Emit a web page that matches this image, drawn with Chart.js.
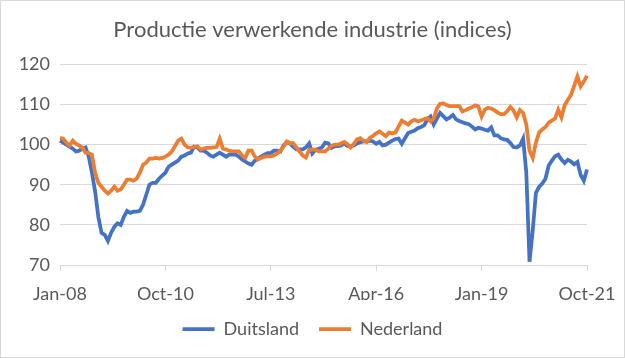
<!DOCTYPE html>
<html>
<head>
<meta charset="utf-8">
<script src="https://cdn.jsdelivr.net/npm/chart.js@4/dist/chart.umd.min.js"></script>
<style>
html,body{margin:0;padding:0;background:#fff;}
#wrap{width:625px;height:358px;position:relative;}
</style>
</head>
<body>
<div id="wrap"><canvas id="c" width="625" height="358"></canvas></div>
<script>
const monthNames = ['Jan','Feb','Mar','Apr','May','Jun','Jul','Aug','Sep','Oct','Nov','Dec'];
const startYear = 2008;
const monthCount = 166;
const tickLabels = ['Jan-08','Oct-10','Jul-13','Apr-16','Jan-19','Oct-21'];

const duitsland = [
101,100.5,100,99.5,99,98.3,98.5,99,99.3,97,93,88.3,82,78,77.5,76,78,79.5,80.4,80,
82,83.5,83,83.3,83.3,83.5,85,87.5,90,90.5,90.5,91.5,92.3,93,94.5,95,95.5,96,97,97.3,
97.8,98,99.5,99.3,98.5,98.5,98,97.3,97,97.5,98,97.5,97,97.5,97.5,97.5,97,96.3,95.8,95.3,
95,96,96.5,97,97.5,97.9,97.9,98.5,98.5,98.3,99.8,100.6,100.3,99.5,98.8,98.8,98.8,99.3,100.3,97.8,
98.7,99,99.3,100.5,100.3,99.2,99.6,99.6,99.8,100.3,99.7,99.6,99.8,100.3,100.6,100.8,100.8,101,100.8,100.2,
100.7,99.8,100,100.5,101,101.4,101.5,100.2,101.6,102.9,103.2,103.5,104.1,104.4,104.8,106.2,107,105,106.5,107.9,
107.1,106.3,106.7,107.4,106.3,105.9,105.6,105.3,105.1,104.5,103.8,104.2,104,103.7,103.5,104.3,102.3,102.3,101.6,101.3,
101.2,100.4,99.4,99.3,99.8,101.5,93,70.8,78.5,88,89.5,90.3,91.5,94.8,96,97.1,97.5,96.3,95.4,96.2,
95.8,95.1,95.7,92.5,91,93.8
];

const nederland = [
101.7,101.5,100.5,99.8,101,100.2,99.8,99.2,98,97.9,97.5,93,90.5,89.5,88.5,87.8,88.5,89.5,88.5,88.8,
90,91.3,91.3,91,91.5,93,95,95.5,96.5,96.5,96.7,96.5,96.7,97,97.5,98.3,99.6,101,101.5,100,
99.3,99.2,99.4,99.6,98.8,99,99.2,99.2,99.3,99.4,101.5,99,98.8,98.5,98.3,98.3,98.3,97.3,96.7,98.5,
98.5,97,96.3,96.7,97,97.1,97.1,97.3,97.8,98.5,99.5,100.8,100.4,100.4,99.3,98.3,97.3,96.8,98.7,98.75,
98.75,98.3,98.3,98.3,99,99.7,100,100,100.3,100.7,100.1,99.3,100.2,101.3,101.6,101,100.6,101.7,102.2,102.8,
103.3,102.7,102.1,103,102.8,103,104.5,106,105.5,105,105.8,106.2,105.8,106,106.3,106.6,105.8,106.5,109,110.2,
110.3,109.9,109.6,109.6,109.6,109.6,108.3,108.6,109,109.3,109.8,109.5,107,108.7,109.2,109,108.6,108,107.6,107.6,
108.3,109.4,108.5,106.8,108.6,107.9,105,98.5,96.7,100.5,103,103.8,104.4,105.5,106,106.5,108.7,106.8,109.8,111.2,
112.4,114.7,117,114.5,115.7,117.2
];

const categories = [];
for (let i = 0; i < monthCount; i++) {
  const m = i % 12;
  const y = startYear + Math.floor(i / 12);
  categories.push(monthNames[m] + '-' + String(y % 100).padStart(2, '0'));
}

const FONT = 'Lato, "Open Sans", sans-serif';
const TXT = '#595959';
const GRID = '#d9d9d9';

const frame = {
  id: 'frame',
  beforeDraw(chart) {
    const ctx = chart.ctx;
    ctx.save();
    ctx.fillStyle = '#fff';
    ctx.fillRect(0, 0, chart.width, chart.height);
    ctx.strokeStyle = '#d9d9d9';
    ctx.lineWidth = 1;
    ctx.strokeRect(0.5, 0.5, chart.width - 1, chart.height - 1);
    ctx.restore();
  }
};

new Chart(document.getElementById('c'), {
  type: 'line',
  data: {
    labels: categories,
    datasets: [
      { label: 'Duitsland', data: duitsland, borderColor: '#4472C4', backgroundColor: '#4472C4',
        borderWidth: 3.75, pointRadius: 0, tension: 0, order: 1 },
      { label: 'Nederland', data: nederland, borderColor: '#ED7D31', backgroundColor: '#ED7D31',
        borderWidth: 3.75, pointRadius: 0, tension: 0, order: 0 }
    ]
  },
  options: {
    responsive: false,
    animation: false,
    layout: { padding: { left: 0, right: 0, top: 0, bottom: 10 } },
    plugins: {
      title: {
        display: true,
        text: 'Productie verwerkende industrie (indices)',
        color: TXT,
        font: { family: FONT, size: 22, weight: 'normal' },
        padding: { top: 17, bottom: 21 }
      },
      legend: {
        position: 'bottom',
        labels: {
          color: TXT,
          font: { family: FONT, size: 18 },
          usePointStyle: true,
          pointStyle: 'line',
          pointStyleWidth: 32,
          boxHeight: 18,
          padding: 20,
          sort: (a, b) => a.datasetIndex - b.datasetIndex
        }
      },
      tooltip: { enabled: false }
    },
    scales: {
      x: {
        ticks: {
          autoSkip: false,
          maxRotation: 0,
          minRotation: 0,
          color: TXT,
          font: { family: FONT, size: 18 },
          padding: 12,
          callback: function (v, i) {
            const l = categories[i];
            return tickLabels.includes(l) ? l : null;
          }
        },
        grid: { drawOnChartArea: false, drawTicks: true, tickLength: 6, color: GRID },
        border: { display: true, color: GRID },
        afterFit: s => { s.height = 35; s.paddingRight = 38; }
      },
      y: {
        min: 70,
        max: 120,
        ticks: { stepSize: 10, color: TXT, font: { family: FONT, size: 18 }, padding: 10 },
        grid: { color: GRID, drawTicks: false },
        border: { display: false },
        afterFit: s => { s.width = 60; }
      }
    }
  },
  plugins: [frame]
});
</script>
</body>
</html>
